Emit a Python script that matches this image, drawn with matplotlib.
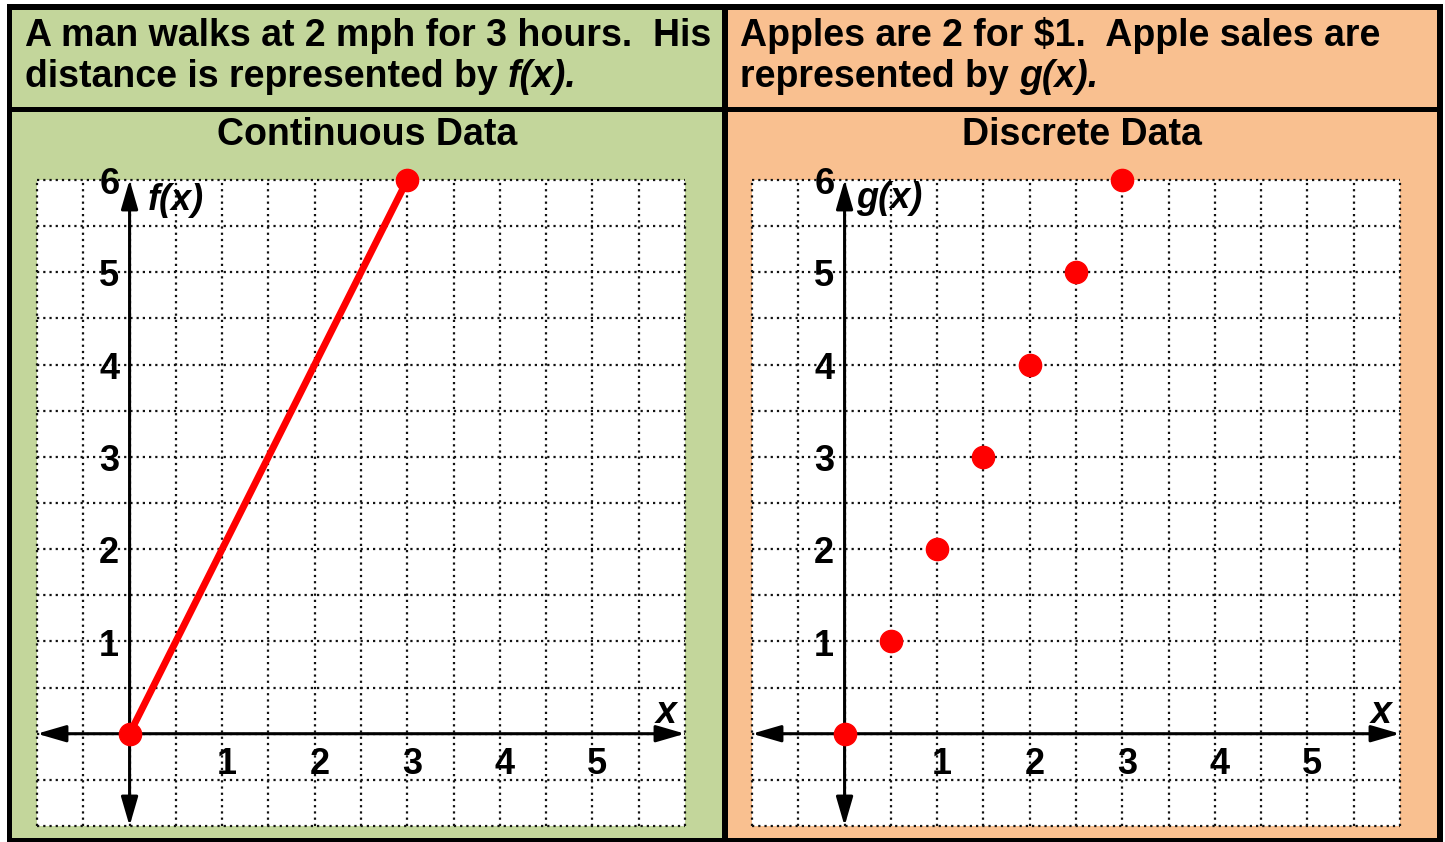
import numpy as np
import matplotlib
matplotlib.use("Agg")
import matplotlib.pyplot as plt
from matplotlib.patches import Rectangle

plt.rcParams['font.family'] = ['Liberation Sans', 'DejaVu Sans']

# data
walk_x = [0, 3]
walk_y = [0, 6]
apple_x = [0, 0.5, 1, 1.5, 2, 2.5, 3]
apple_y = [0, 1, 2, 3, 4, 5, 6]
x_ticks = [1, 2, 3, 4, 5]
y_ticks = [1, 2, 3, 4, 5, 6]

left_title = ["A man walks at 2 mph for 3 hours.  His", "distance is represented by ", "f(x)."]
right_title = ["Apples are 2 for $1.  Apple sales are", "represented by ", "g(x)."]
sub_titles = ["Continuous Data", "Discrete Data"]
func_names = ["f(x)", "g(x)"]

GREEN = '#C3D69B'
ORANGE = '#F9C090'

W, H = 1445, 842
fig = plt.figure(figsize=(W / 100, H / 100), dpi=100)
fig.patch.set_facecolor('white')


def px_rect(x0, y0, x1, y1, color):
    fig.patches.append(Rectangle((x0 / W, 1 - y1 / H), (x1 - x0) / W, (y1 - y0) / H,
                                 transform=fig.transFigure, facecolor=color,
                                 edgecolor='none', zorder=-5))


# frame and panels
px_rect(7, 4, 1443, 842, 'black')
px_rect(12, 10, 722, 107, GREEN)
px_rect(728, 10, 1437, 107, ORANGE)
px_rect(12, 112, 722, 838, GREEN)
px_rect(728, 112, 1437, 838, ORANGE)

renderer = fig.canvas.get_renderer()
HFS = 27


def header(lines, x0):
    fig.text(x0 / W, 1 - 46 / H, lines[0], fontsize=HFS, fontweight='bold', va='baseline')
    t = fig.text(x0 / W, 1 - 87 / H, lines[1], fontsize=HFS, fontweight='bold', va='baseline')
    bb = t.get_window_extent(renderer)
    fig.text(bb.x1 / W, 1 - 87 / H, lines[2], fontsize=HFS, fontweight='bold',
             fontstyle='italic', va='baseline')


header(left_title, 25)
header(right_title, 740)
fig.text(367 / W, 1 - 145 / H, sub_titles[0], fontsize=HFS, fontweight='bold',
         ha='center', va='baseline')
fig.text(1082 / W, 1 - 145 / H, sub_titles[1], fontsize=HFS, fontweight='bold',
         ha='center', va='baseline')


def make_axes(left_px):
    ax = fig.add_axes([left_px / W, (H - 826) / H, 648 / W, 646 / H])
    ax.set_xlim(-1, 6)
    ax.set_ylim(-1, 6)
    ax.set_facecolor('white')
    for s in ax.spines.values():
        s.set_visible(False)
    ax.set_xticks([])
    ax.set_yticks([])
    grid = np.arange(-1, 6.01, 0.5)
    ax.vlines(grid, -1, 6, colors='#111111', linestyles=(0, (1, 1.8)), linewidth=1.6, zorder=1,
              clip_on=False)
    ax.hlines(grid, -1, 6, colors='#111111', linestyles=(0, (1, 1.8)), linewidth=1.6, zorder=1,
              clip_on=False)
    arrow = dict(arrowstyle='<|-|>,head_length=1.1,head_width=0.32', color='black',
                 lw=2.2, shrinkA=0, shrinkB=0, mutation_scale=16)
    ax.annotate('', xy=(6, 0), xytext=(-1, 0), arrowprops=arrow, zorder=2)
    ax.annotate('', xy=(0, 6), xytext=(0, -1), arrowprops=arrow, zorder=2)
    for v in x_ticks:
        ax.text(v + 0.05, -0.33, str(v), fontsize=26, fontweight='bold', ha='center', va='center')
    for v in y_ticks:
        ax.text(-0.22, v - 0.05, str(v), fontsize=26, fontweight='bold', ha='center', va='center')
    ax.text(5.8, 0.22, 'x', fontsize=27, fontweight='bold', fontstyle='italic',
            ha='center', va='center')
    return ax


ax1 = make_axes(37)
ax1.plot(walk_x, walk_y, color='#FF0000', lw=5, marker='o', markersize=16,
         solid_capstyle='round', zorder=5, clip_on=False)
ax1.text(0.2, 5.78, func_names[0], fontsize=26, fontweight='bold', fontstyle='italic',
         ha='left', va='center')

ax2 = make_axes(752)
ax2.plot(apple_x, apple_y, 'o', color='#FF0000', markersize=16, zorder=5, clip_on=False)
ax2.text(0.12, 5.8, func_names[1], fontsize=26, fontweight='bold', fontstyle='italic',
         ha='left', va='center')

fig.savefig('out.png', dpi=100)
